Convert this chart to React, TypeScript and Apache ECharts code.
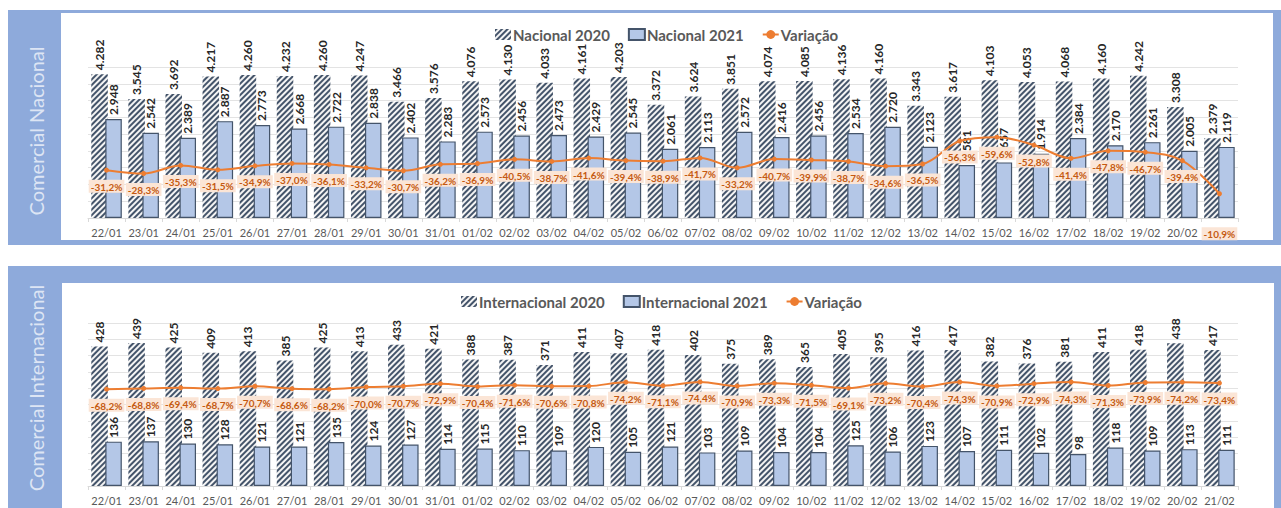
import React, { useEffect, useRef } from "react";
import * as echarts from "echarts";

const CATEGORIES = [
  "22/01", "23/01", "24/01", "25/01", "26/01", "27/01", "28/01", "29/01", "30/01", "31/01",
  "01/02", "02/02", "03/02", "04/02", "05/02", "06/02", "07/02", "08/02", "09/02", "10/02",
  "11/02", "12/02", "13/02", "14/02", "15/02", "16/02", "17/02", "18/02", "19/02", "20/02", "21/02",
];

const NACIONAL_2020 = [
  4282, 3545, 3692, 4217, 4260, 4232, 4260, 4247, 3466, 3576,
  4076, 4130, 4033, 4161, 4203, 3372, 3624, 3851, 4074, 4085,
  4136, 4160, 3343, 3617, 4103, 4053, 4068, 4160, 4242, 3308, 2379,
];
const NACIONAL_2021 = [
  2948, 2542, 2389, 2887, 2773, 2668, 2722, 2838, 2402, 2283,
  2573, 2456, 2473, 2429, 2545, 2061, 2113, 2572, 2416, 2456,
  2534, 2720, 2123, 1581, 1657, 1914, 2384, 2170, 2261, 2005, 2119,
];
const NACIONAL_VAR = [
  -31.2, -28.3, -35.3, -31.5, -34.9, -37.0, -36.1, -33.2, -30.7, -36.2,
  -36.9, -40.5, -38.7, -41.6, -39.4, -38.9, -41.7, -33.2, -40.7, -39.9,
  -38.7, -34.6, -36.5, -56.3, -59.6, -52.8, -41.4, -47.8, -46.7, -39.4, -10.9,
];

const INTER_2020 = [
  428, 439, 425, 409, 413, 385, 425, 413, 433, 421,
  388, 387, 371, 411, 407, 418, 402, 375, 389, 365,
  405, 395, 416, 417, 382, 376, 381, 411, 418, 438, 417,
];
const INTER_2021 = [
  136, 137, 130, 128, 121, 121, 135, 124, 127, 114,
  115, 110, 109, 120, 105, 121, 103, 109, 104, 104,
  125, 106, 123, 107, 111, 102, 98, 118, 109, 113, 111,
];
const INTER_VAR = [
  -68.2, -68.8, -69.4, -68.7, -70.7, -68.6, -68.2, -70.0, -70.7, -72.9,
  -70.4, -71.6, -70.6, -70.8, -74.2, -71.1, -74.4, -70.9, -73.3, -71.5,
  -69.1, -73.2, -70.4, -74.3, -70.9, -72.9, -74.3, -71.3, -73.9, -74.2, -73.4,
];

const PANEL_TITLES = ["Comercial Nacional", "Comercial Internacional"];
const LEGEND_NAMES = [
  ["Nacional 2020", "Nacional 2021", "Variação"],
  ["Internacional 2020", "Internacional 2021", "Variação"],
];

const FONT = "Lato, 'Noto Sans', sans-serif";
const BLUE = "#8eaadb";
const HATCH = "#44546a";
const BAR21 = "#b4c7e7";
const ORANGE = "#ed7d31";

const fmtThousands = (v: number) => String(v).replace(/\B(?=(\d{3})+(?!\d))/g, ".");
const fmtPct = (v: number) => v.toFixed(1).replace(".", ",") + "%";

function buildOption() {
  const grids = [
    { left: 88, width: 1150, top: 67, height: 151 },
    { left: 88, width: 1150, top: 323, height: 163 },
  ];
  const primary = [
    { max: 4500, interval: 500 },
    { max: 500, interval: 50 },
  ];
  const secondary = [
    { min: -120, max: 10 },
    { min: -125, max: 15 },
  ];
  const datasets = [
    [NACIONAL_2020, NACIONAL_2021, NACIONAL_VAR],
    [INTER_2020, INTER_2021, INTER_VAR],
  ];

  const xAxis: any[] = [];
  const yAxis: any[] = [];
  const series: any[] = [];
  const legend: any[] = [];

  [0, 1].forEach((p) => {
    xAxis.push({
      type: "category",
      gridIndex: p,
      data: CATEGORIES,
      axisLine: { lineStyle: { color: "#d9d9d9", width: 1 } },
      axisTick: { show: true, length: 4, lineStyle: { color: "#d9d9d9" } },
      axisLabel: { color: "#595959", fontSize: 11, fontFamily: FONT, margin: 9, interval: 0 },
    });
    yAxis.push({
      type: "value",
      gridIndex: p,
      min: 0,
      max: primary[p].max,
      interval: primary[p].interval,
      axisLabel: { show: false },
      axisLine: { show: false },
      axisTick: { show: false },
      splitLine: { lineStyle: { color: "#e3e3e3", width: 1 } },
    });
    yAxis.push({
      type: "value",
      gridIndex: p,
      inverse: true,
      min: secondary[p].min,
      max: secondary[p].max,
      show: false,
      splitLine: { show: false },
    });
    const [a, b, v] = datasets[p];
    const names = LEGEND_NAMES[p];
    const valueLabel = {
      show: true,
      position: "top",
      rotate: 90,
      align: "left",
      verticalAlign: "middle",
      distance: 4,
      color: "#262626",
      fontSize: 12,
      fontWeight: "bold",
      fontFamily: FONT,
      formatter: (d: any) => fmtThousands(d.value),
    };
    series.push({
      name: names[0],
      type: "bar",
      xAxisIndex: p,
      yAxisIndex: p * 2,
      data: a,
      barWidth: 16.5,
      barGap: "-15%",
      itemStyle: {
        color: "#f4f4f4",
        decal: {
          symbol: "rect",
          symbolSize: 1,
          color: HATCH,
          dashArrayX: [1, 0],
          dashArrayY: [2, 2],
          rotation: -Math.PI / 4,
        },
      },
      label: valueLabel,
      z: 2,
    });
    series.push({
      name: names[1],
      type: "bar",
      xAxisIndex: p,
      yAxisIndex: p * 2,
      data: b,
      barWidth: 16.5,
      barGap: "-15%",
      itemStyle: { color: BAR21, borderColor: HATCH, borderWidth: 1.2 },
      label: valueLabel,
      z: 3,
    });
    const lastIdx = v.length - 1;
    series.push({
      name: names[2],
      type: "line",
      xAxisIndex: p,
      yAxisIndex: p * 2 + 1,
      data: v.map((val, i) =>
        p === 0 && i === lastIdx ? { value: val, label: { distance: 31 } } : val
      ),
      smooth: 0.35,
      symbol: "circle",
      symbolSize: 5,
      lineStyle: { color: ORANGE, width: 2 },
      itemStyle: { color: ORANGE },
      label: {
        show: true,
        position: "bottom",
        distance: 7,
        color: "#c55a11",
        backgroundColor: "#fbe5d6",
        padding: [2, 2, 1, 2],
        fontSize: 10,
        fontWeight: "bold",
        fontFamily: FONT,
        formatter: (d: any) => fmtPct(d.value),
      },
      z: 5,
    });
    legend.push({
      data: [
        { name: names[0], icon: "rect" },
        { name: names[1], icon: "rect" },
        { name: names[2] },
      ],
      left: p === 0 ? 490 : 456,
      top: p === 0 ? 22 : 289,
      itemWidth: 16,
      itemHeight: 11,
      itemGap: 18,
      selectedMode: false,
      textStyle: { color: "#595959", fontSize: 15, fontWeight: "bold", fontFamily: FONT, padding: [0, 0, 0, -3] },
    });
  });

  const bandText = (text: string, y: number) => ({
    type: "text",
    x: 36,
    y,
    rotation: Math.PI / 2,
    style: {
      text,
      fill: "#dde5f4",
      font: `20px ${FONT}`,
      textAlign: "center",
      textVerticalAlign: "middle",
    },
  });

  const graphic: any[] = [
    { type: "rect", z: -100, shape: { x: 8, y: 10, width: 1273, height: 235 }, style: { fill: BLUE } },
    { type: "rect", z: -99, shape: { x: 61, y: 13, width: 1212, height: 227 }, style: { fill: "#ffffff" } },
    { type: "rect", z: -100, shape: { x: 8, y: 266, width: 1273, height: 260 }, style: { fill: BLUE } },
    { type: "rect", z: -99, shape: { x: 62, y: 283, width: 1212, height: 240 }, style: { fill: "#ffffff" } },
    bandText(PANEL_TITLES[0], 131),
    bandText(PANEL_TITLES[1], 388),
  ];

  return {
    animation: false,
    backgroundColor: "#ffffff",
    textStyle: { fontFamily: FONT },
    graphic,
    grid: grids,
    legend,
    xAxis,
    yAxis,
    series,
  };
}

export default function App() {
  const ref = useRef<HTMLDivElement>(null);
  useEffect(() => {
    document.body.style.margin = "0";
    if (!ref.current) return;
    const chart = echarts.init(ref.current, undefined, { renderer: "svg" });
    chart.setOption(buildOption() as any);
    return () => chart.dispose();
  }, []);
  return <div ref={ref} style={{ width: 1281, height: 508 }} />;
}
